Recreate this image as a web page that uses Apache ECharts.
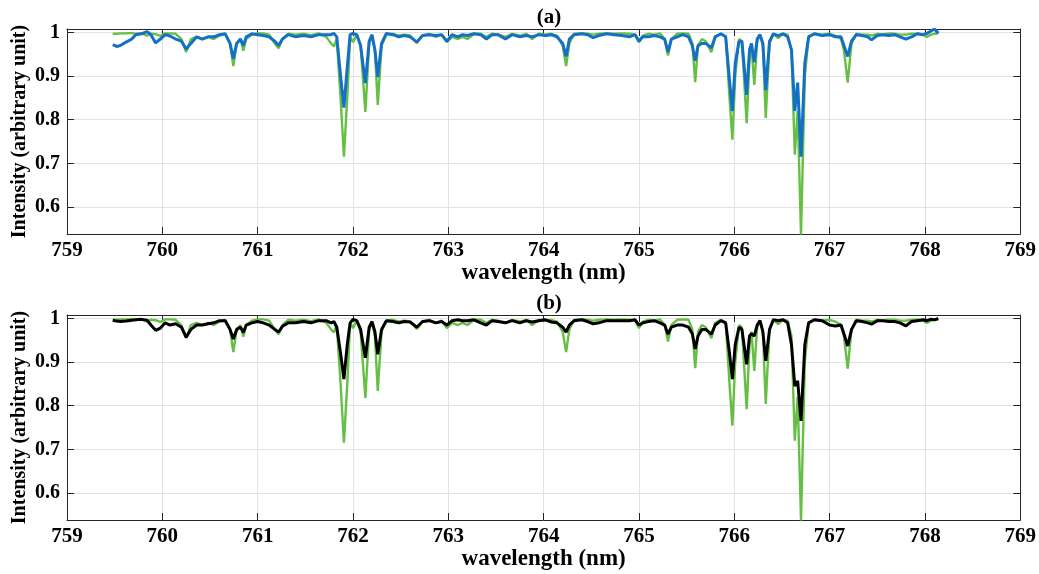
<!DOCTYPE html>
<html>
<head>
<meta charset="utf-8">
<script src="https://cdn.jsdelivr.net/npm/echarts@6/dist/echarts.min.js"></script>
<style>
html,body{margin:0;padding:0;background:#fff;}
#chart{width:1039px;height:574px;}
</style>
</head>
<body>
<div id="chart"></div>
<script>
// Wavelength grid (nm), shared by all series
const wavelength = [
759.48,759.52,759.56,759.62,759.68,759.72,759.78,759.84,759.88,759.93,759.98,760.03,760.08,760.14,760.20,760.25,760.30,760.36,760.42,760.48,
760.54,760.60,760.66,760.71,760.745,760.78,760.82,760.85,760.88,760.94,761.00,761.06,761.12,761.18,761.22,761.26,761.32,761.40,761.48,761.56,
761.64,761.72,761.77,761.80,761.83,761.87,761.905,761.94,761.97,762.00,762.04,762.08,762.13,762.17,762.20,762.23,762.26,762.30,762.35,762.42,
762.48,762.54,762.60,762.67,762.73,762.80,762.87,762.93,762.985,763.04,763.10,763.15,763.20,763.27,763.34,763.40,763.46,763.52,763.60,763.67,
763.75,763.82,763.88,763.95,764.02,764.08,764.14,764.20,764.236,764.27,764.32,764.40,764.46,764.52,764.58,764.66,764.74,764.82,764.90,764.96,
765.00,765.04,765.10,765.16,765.22,765.27,765.305,765.34,765.40,765.46,765.52,765.56,765.59,765.62,765.66,765.70,765.76,765.80,765.86,765.91,
765.95,765.98,766.01,766.05,766.08,766.13,766.16,766.18,766.21,766.24,766.27,766.30,766.33,766.37,766.41,766.46,766.51,766.56,766.60,766.635,
766.665,766.70,766.74,766.78,766.84,766.92,767.00,767.06,767.12,767.15,767.19,767.23,767.28,767.34,767.40,767.44,767.50,767.56,767.62,767.68,
767.74,767.80,767.86,767.92,767.98,768.02,768.06,768.10,768.14
];
// Green (simulated spectrum) - same in both panels
const simulated = [
0.997,0.997,0.998,0.998,0.999,0.997,0.998,0.993,0.997,0.996,0.992,0.998,0.998,0.997,0.985,0.955,0.985,0.990,0.985,0.990,
0.985,0.993,0.997,0.975,0.923,0.975,0.985,0.958,0.985,0.995,0.998,0.998,0.995,0.975,0.964,0.985,0.997,0.995,0.997,0.994,
0.998,0.990,0.975,0.968,0.985,0.850,0.715,0.850,0.990,0.978,0.995,0.970,0.818,0.975,0.990,0.960,0.834,0.970,0.995,0.997,
0.993,0.995,0.993,0.976,0.993,0.997,0.990,0.995,0.978,0.990,0.985,0.990,0.985,0.997,0.997,0.990,0.997,0.995,0.990,0.997,
0.993,0.997,0.985,0.997,0.995,0.997,0.993,0.970,0.923,0.975,0.997,0.998,0.997,0.995,0.997,0.998,0.997,0.998,0.997,0.995,
0.978,0.993,0.997,0.995,0.998,0.985,0.947,0.985,0.997,0.998,0.997,0.975,0.886,0.970,0.985,0.980,0.955,0.990,0.997,0.990,
0.850,0.754,0.900,0.985,0.980,0.792,0.940,0.970,0.880,0.980,0.995,0.970,0.804,0.975,0.997,0.987,0.997,0.995,0.960,0.720,
0.820,0.537,0.900,0.990,0.997,0.995,0.997,0.993,0.985,0.960,0.885,0.975,0.997,0.995,0.995,0.993,0.997,0.995,0.998,0.997,
0.995,0.995,0.997,0.997,0.995,0.990,0.995,0.997,0.998
];
// Blue (measured, panel a)
const measuredA = [
0.972,0.968,0.970,0.978,0.985,0.995,0.997,1.002,0.995,0.976,0.985,0.995,0.992,0.985,0.980,0.962,0.975,0.990,0.985,0.990,
0.990,0.995,0.997,0.975,0.940,0.975,0.985,0.970,0.990,0.997,0.995,0.993,0.990,0.980,0.970,0.985,0.995,0.990,0.993,0.990,
0.995,0.995,0.995,0.998,0.990,0.900,0.828,0.920,0.995,0.998,0.995,0.970,0.884,0.980,0.995,0.960,0.898,0.975,0.998,0.995,
0.990,0.993,0.990,0.978,0.993,0.995,0.993,0.995,0.980,0.995,0.990,0.995,0.993,0.997,0.995,0.985,0.995,0.995,0.985,0.995,
0.990,0.993,0.990,0.995,0.993,0.995,0.990,0.975,0.945,0.985,0.995,0.997,0.995,0.988,0.993,0.997,0.995,0.993,0.990,0.995,
0.980,0.990,0.990,0.993,0.990,0.985,0.955,0.985,0.990,0.995,0.990,0.970,0.935,0.970,0.975,0.975,0.965,0.990,0.997,0.990,
0.890,0.820,0.930,0.980,0.980,0.857,0.960,0.975,0.932,0.985,0.995,0.975,0.868,0.980,0.997,0.993,0.997,0.990,0.960,0.820,
0.885,0.715,0.930,0.990,0.997,0.993,0.995,0.990,0.990,0.970,0.945,0.980,0.995,0.993,0.990,0.983,0.993,0.995,0.993,0.995,
0.990,0.985,0.990,0.997,0.995,0.998,1.003,1.008,0.998
];
// Black (measured, panel b)
const measuredB = [
0.996,0.994,0.993,0.994,0.996,0.997,0.998,0.996,0.985,0.973,0.978,0.990,0.985,0.988,0.980,0.957,0.975,0.985,0.985,0.988,
0.990,0.995,0.995,0.975,0.953,0.975,0.980,0.968,0.985,0.990,0.993,0.990,0.985,0.975,0.969,0.982,0.990,0.990,0.993,0.990,
0.995,0.995,0.990,0.993,0.980,0.920,0.861,0.940,0.990,0.998,0.995,0.975,0.910,0.980,0.993,0.970,0.918,0.975,0.995,0.993,
0.990,0.993,0.992,0.980,0.993,0.995,0.990,0.993,0.985,0.995,0.997,0.995,0.995,0.997,0.990,0.985,0.995,0.993,0.990,0.995,
0.990,0.995,0.992,0.995,0.997,0.992,0.990,0.980,0.969,0.985,0.995,0.997,0.993,0.988,0.990,0.995,0.995,0.995,0.995,0.997,
0.985,0.990,0.993,0.995,0.990,0.985,0.964,0.980,0.985,0.985,0.980,0.965,0.930,0.960,0.975,0.975,0.964,0.985,0.995,0.990,
0.920,0.861,0.940,0.980,0.975,0.895,0.960,0.965,0.960,0.985,0.995,0.970,0.903,0.975,0.997,0.995,0.997,0.990,0.940,0.845,
0.857,0.765,0.940,0.990,0.997,0.995,0.985,0.983,0.985,0.965,0.937,0.975,0.995,0.993,0.990,0.987,0.995,0.995,0.993,0.993,
0.990,0.983,0.993,0.995,0.997,0.995,0.998,0.997,1.000
];
const yTicks = [0.6, 0.7, 0.8, 0.9, 1];
const panelTitles = ['(a)', '(b)'];
const xTitle = 'wavelength (nm)';
const yTitle = 'Intensity (arbitrary unit)';

const pairs = (ys) => wavelength.map((x, i) => [x, ys[i]]);
const FONT = 'Liberation Serif, Times New Roman, serif';
const AX = '#262626';
const GRIDC = '#e2e2e2';
const grids = [
  {left: 67, right: 18, top: 29, height: 205},
  {left: 67, right: 18, top: 315, height: 205}
];
const xAxes = [], yAxes = [];
[0, 1].forEach(g => {
  xAxes.push({
    type: 'value', gridIndex: g, min: 759, max: 769, interval: 1, position: 'bottom',
    axisLine: {show: true, onZero: false, lineStyle: {color: AX, width: 1}},
    axisTick: {show: true, inside: true, length: 7, lineStyle: {color: AX}},
    axisLabel: {fontFamily: FONT, fontWeight: 'bold', fontSize: 21, color: '#000', margin: 6},
    splitLine: {show: true, lineStyle: {color: GRIDC, width: 1}},
    name: xTitle, nameLocation: 'middle', nameGap: 28,
    nameTextStyle: {fontFamily: FONT, fontWeight: 'bold', fontSize: 23, color: '#000'}
  });
  xAxes.push({
    type: 'value', gridIndex: g, min: 759, max: 769, interval: 1, position: 'top',
    axisLine: {show: true, onZero: false, lineStyle: {color: AX, width: 1}},
    axisTick: {show: true, inside: true, length: 7, lineStyle: {color: AX}},
    axisLabel: {show: false}, splitLine: {show: false}
  });
  yAxes.push({
    type: 'value', gridIndex: g, min: 0.538, max: 1.008, position: 'left',
    axisLine: {show: true, onZero: false, lineStyle: {color: AX, width: 1}},
    axisTick: {show: true, inside: true, length: 7, lineStyle: {color: AX}, customValues: yTicks},
    axisLabel: {fontFamily: FONT, fontWeight: 'bold', fontSize: 20, color: '#000', margin: 7,
      customValues: yTicks, formatter: v => (Math.abs(v - 1) < 1e-9 ? '1' : v.toFixed(1))},
    splitLine: {show: true, lineStyle: {color: GRIDC, width: 1}},
    name: yTitle, nameLocation: 'middle', nameGap: 37, nameRotate: 90, nameMoveOverlap: false,
    nameTextStyle: {fontFamily: FONT, fontWeight: 'bold', fontSize: 20, color: '#000'}
  });
  yAxes.push({
    type: 'value', gridIndex: g, min: 0.538, max: 1.008, position: 'right',
    axisLine: {show: true, onZero: false, lineStyle: {color: AX, width: 1}},
    axisTick: {show: true, inside: true, length: 7, lineStyle: {color: AX}, customValues: yTicks},
    axisLabel: {show: false, customValues: yTicks}, splitLine: {show: false}
  });
});

const lineSeries = (name, ys, xi, yi, color, w, z) => ({
  name, type: 'line', xAxisIndex: xi, yAxisIndex: yi, data: pairs(ys),
  showSymbol: false, symbol: 'none', smooth: false, z,
  lineStyle: {color, width: w}, itemStyle: {color}, animation: false
});

const chart = echarts.init(document.getElementById('chart'), null, {renderer: 'canvas'});
chart.setOption({
  backgroundColor: '#fff',
  animation: false,
  title: [
    {text: panelTitles[0], left: 544, top: 2, textAlign: 'center',
     textStyle: {fontFamily: FONT, fontWeight: 'bold', fontSize: 21, color: '#000'}},
    {text: panelTitles[1], left: 544, top: 288, textAlign: 'center',
     textStyle: {fontFamily: FONT, fontWeight: 'bold', fontSize: 21, color: '#000'}}
  ],
  grid: grids,
  xAxis: xAxes,
  yAxis: yAxes,
  series: [
    lineSeries('simulated (a)', simulated, 0, 0, '#66bf45', 2.4, 2),
    lineSeries('measured (a)', measuredA, 0, 0, '#1470c4', 3, 3),
    lineSeries('simulated (b)', simulated, 2, 2, '#66bf45', 2.4, 2),
    lineSeries('measured (b)', measuredB, 2, 2, '#000000', 3, 3)
  ]
});
</script>
</body>
</html>
